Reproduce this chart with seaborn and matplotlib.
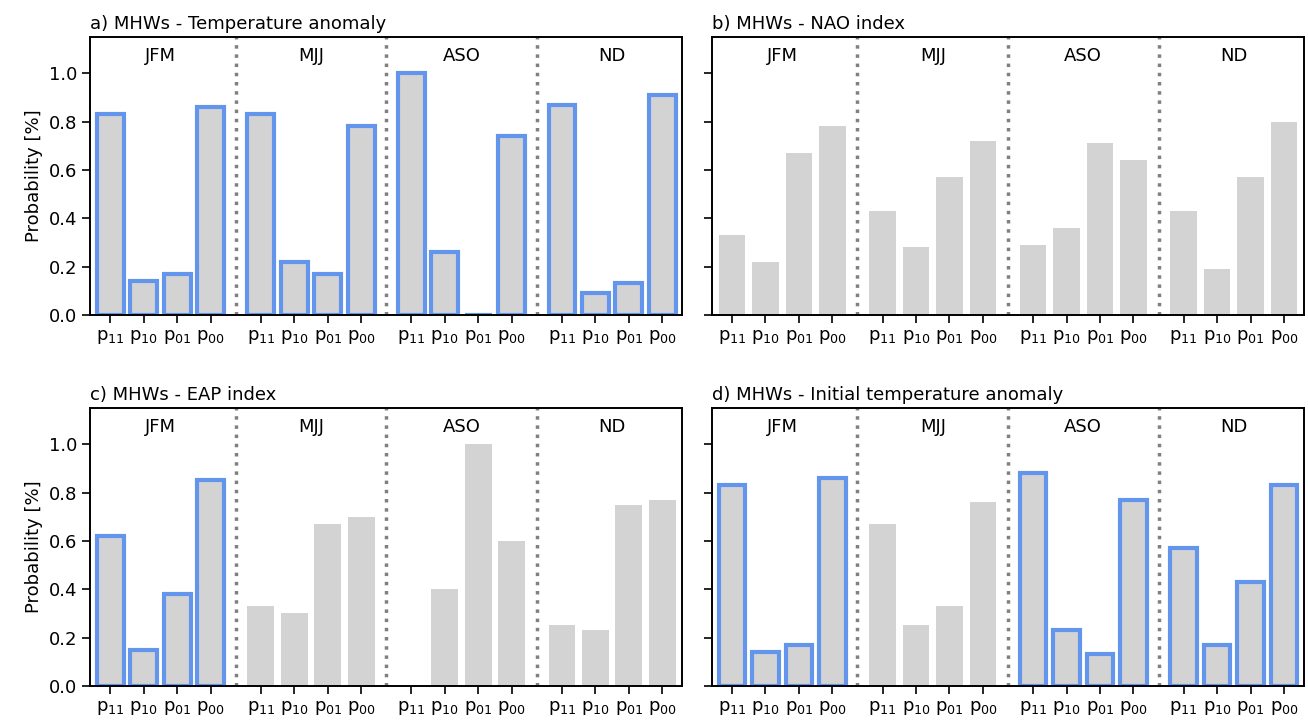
import matplotlib
matplotlib.use("Agg")
import matplotlib.pyplot as plt
import seaborn as sns
import numpy as np
import pandas as pd

seasons = ["JFM", "MJJ", "ASO", "ND"]
probs = ["p$_{11}$", "p$_{10}$", "p$_{01}$", "p$_{00}$"]
titles = ["a) MHWs - Temperature anomaly", "b) MHWs - NAO index",
          "c) MHWs - EAP index", "d) MHWs - Initial temperature anomaly"]

vals_a = [[.83, .14, .17, .86], [.83, .22, .17, .78], [1.0, .26, 0.0, .74], [.87, .09, .13, .91]]
vals_b = [[.33, .22, .67, .78], [.43, .28, .57, .72], [.29, .36, .71, .64], [.43, .19, .57, .80]]
vals_c = [[.62, .15, .38, .85], [.33, .30, .67, .70], [0.0, .40, 1.0, .60], [.25, .23, .75, .77]]
vals_d = [[.83, .14, .17, .86], [.67, .25, .33, .76], [.88, .23, .13, .77], [.57, .17, .43, .83]]
# seasons drawn with a blue edge (significant)
sig_a = [True, True, True, True]
sig_b = [False, False, False, False]
sig_c = [True, False, False, False]
sig_d = [True, False, True, True]

panels = [(vals_a, sig_a), (vals_b, sig_b), (vals_c, sig_c), (vals_d, sig_d)]

sns.set_style("ticks")
plt.rcParams['font.family'] = ['DejaVu Sans']
plt.rcParams['font.size'] = 12
plt.rcParams['text.color'] = 'black'
plt.rcParams['axes.labelcolor'] = 'black'
plt.rcParams['xtick.color'] = 'black'
plt.rcParams['ytick.color'] = 'black'
plt.rcParams['axes.edgecolor'] = 'black'

fig, axes = plt.subplots(2, 2, figsize=(13.08, 7.25), dpi=100, sharey=True)
pos = [g * 4.5 + i for g in range(4) for i in range(4)]

for ax, title, (vals, sig) in zip(axes.flat, titles, panels):
    df = pd.DataFrame({"x": pos, "y": np.ravel(vals)})
    sns.barplot(data=df, x="x", y="y", native_scale=True, color="lightgray",
                saturation=1, width=0.8, ax=ax)
    for k, p in enumerate(ax.patches):
        if sig[k // 4]:
            p.set_edgecolor("cornflowerblue")
            p.set_linewidth(3)
        else:
            p.set_edgecolor("none")
    for g in range(1, 4):
        ax.axvline(g * 4.5 - 0.75, color="gray", ls=":", lw=2.5)
    for g, s in enumerate(seasons):
        ax.text(g * 4.5 + 1.5, 1.07, s, ha="center", va="center", fontsize=13)
    ax.set_xticks(pos)
    ax.set_xticklabels(probs * 4, fontsize=13)
    ax.set_xlim(-0.6, 17.1)
    ax.set_ylim(0, 1.15)
    ax.set_yticks([0, .2, .4, .6, .8, 1.0])
    ax.tick_params(length=6, width=1.2, labelsize=13)
    ax.set_xlabel("")
    ax.set_ylabel("")
    ax.set_title(title, loc="left", fontsize=13)
    for sp in ax.spines.values():
        sp.set_linewidth(1.4)

for ax in axes[:, 0]:
    ax.set_ylabel("Probability [%]", fontsize=13)

fig.subplots_adjust(left=0.069, right=0.997, top=0.949, bottom=0.054,
                    hspace=0.335, wspace=0.05)
plt.savefig("out.png", dpi=100)
